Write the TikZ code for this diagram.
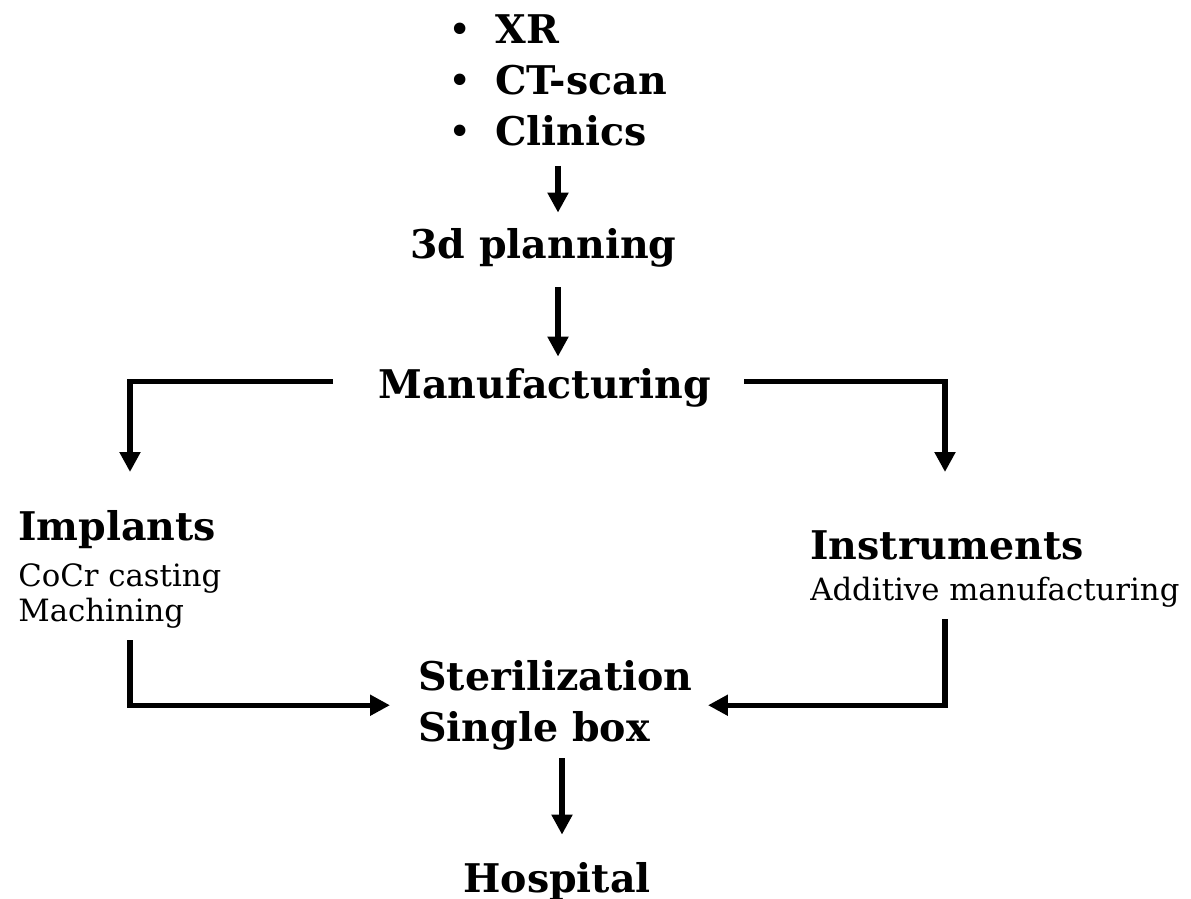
\documentclass[tikz,border=0pt]{standalone}
\usepackage{fontspec}
\setmainfont{DejaVu Serif}
\usetikzlibrary{arrows.meta}
\newcommand{\lblbold}{\bfseries\fontsize{22.5}{29}\selectfont}
\newcommand{\lblthin}{\mdseries\fontsize{17.5}{20}\selectfont}

\begin{document}
\begin{tikzpicture}[x=0.02cm, y=-0.02cm, >={Triangle[length=0.4cm,width=0.4cm]},
    lbl/.style={inner sep=0pt, align=left},
    flow/.style={->, line width=2.9pt}]
    \useasboundingbox (0,0) rectangle (1191,899);
    % column guides for the connectors
    \coordinate (mx) at (558,0);
    \coordinate (hx) at (562,0);
    \coordinate (lx) at (130,0);
    \coordinate (rx) at (945,0);

    \node[lbl, font=\lblbold, anchor=north west] (src) at (448,14)
      {\makebox[0.94cm][l]{\mdseries\textbullet}XR\\
       \makebox[0.94cm][l]{\mdseries\textbullet}CT-scan\\
       \makebox[0.94cm][l]{\mdseries\textbullet}Clinics};
    \node[lbl, font=\lblbold, anchor=base west] (plan) at (410,258) {3d planning};
    \node[lbl, font=\lblbold, anchor=base west] (manu) at (378,398) {Manufacturing};
    \node[lbl, font=\lblthin, anchor=north west] (impl) at (18,510)
      {{\lblbold Implants}\\[6pt] CoCr casting\\ Machining};
    \node[lbl, font=\lblthin, anchor=north west] (instr) at (810,530)
      {{\lblbold Instruments}\\[3.8pt] Additive manufacturing};
    \node[lbl, font=\lblbold, anchor=north west] (steril) at (418,660)
      {Sterilization\\ Single box};
    \node[lbl, font=\lblbold, anchor=base west] (hosp) at (463,892) {Hospital};

    \draw[flow, shorten <=0.4cm, shorten >=0.3cm] (src.south -| mx) -- (plan.north -| mx);
    \draw[flow, shorten <=0.4cm, shorten >=0.22cm] (plan.south -| mx) -- (manu.north -| mx);
    \draw[flow, shorten <=0.9cm, shorten >=0.76cm] ([yshift=0.12cm]manu.west) -| (lx |- impl.north);
    \draw[flow, shorten <=0.66cm, shorten >=1.16cm] ([yshift=0.12cm]manu.east) -| (rx |- instr.north);
    \draw[flow, shorten <=0.24cm, shorten >=0.56cm] (lx |- impl.south) |- (steril.west);
    \draw[flow, shorten <=0.22cm, shorten >=0.3cm] (rx |- instr.south) |- (steril.east);
    \draw[flow, shorten <=0.16cm, shorten >=0.54cm] (steril.south -| hx) -- (hosp.north -| hx);
  \end{tikzpicture}
\end{document}
